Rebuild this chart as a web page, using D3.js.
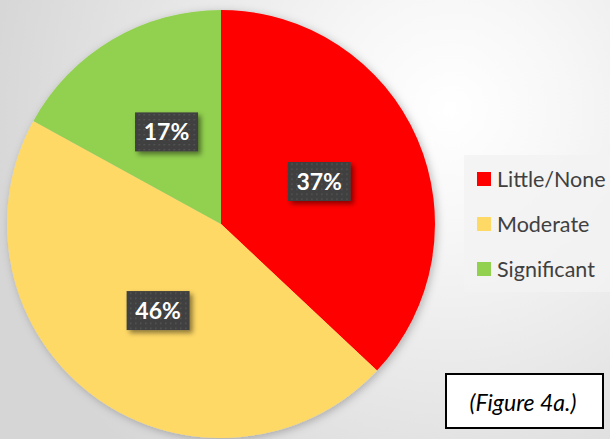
<!DOCTYPE html>
<html>
<head>
<meta charset="utf-8">
<script src="https://cdn.jsdelivr.net/npm/d3@7"></script>
<style>
  html, body { margin: 0; padding: 0; }
  body { width: 610px; height: 439px; overflow: hidden; }
</style>
</head>
<body>
<div id="chart"></div>
<script>
// data
const categories = ['Little/None', 'Moderate', 'Significant'];
const shares = [37, 46, 17];
const sliceColors = ['#ff0000', '#ffd966', '#92d050'];
const caption = '(Figure 4a.)';

const width = 610;
const height = 439;
const cx = 221;
const cy = 224;
const radius = 214;

const data = categories.map((c, i) => ({ name: c, value: shares[i] }));

const svg = d3.select('#chart')
  .append('svg')
    .attr('width', width)
    .attr('height', height);

const defs = svg.append('defs');

// background radial gradient, lightest toward upper right
const bg = defs.append('radialGradient')
  .attr('id', 'bgGrad')
  .attr('gradientUnits', 'userSpaceOnUse')
  .attr('cx', 450).attr('cy', 110).attr('r', 470);
bg.append('stop').attr('offset', '0%').attr('stop-color', '#ffffff');
bg.append('stop').attr('offset', '25%').attr('stop-color', '#f7f7f7');
bg.append('stop').attr('offset', '100%').attr('stop-color', '#d6d6d6');

// soft shadow for the pie and label boxes
const pieShadow = defs.append('filter')
  .attr('id', 'pieShadow')
  .attr('x', '-10%').attr('y', '-10%')
  .attr('width', '120%').attr('height', '120%');
pieShadow.append('feDropShadow')
  .attr('dx', 2).attr('dy', 2)
  .attr('stdDeviation', 4)
  .attr('flood-color', '#000')
  .attr('flood-opacity', 0.25);

const boxShadow = defs.append('filter')
  .attr('id', 'boxShadow')
  .attr('x', '-20%').attr('y', '-20%')
  .attr('width', '150%').attr('height', '160%');
boxShadow.append('feDropShadow')
  .attr('dx', 3).attr('dy', 3)
  .attr('stdDeviation', 2.5)
  .attr('flood-color', '#000')
  .attr('flood-opacity', 0.45);

// dotted fill for data label boxes
const dots = defs.append('pattern')
  .attr('id', 'dots')
  .attr('patternUnits', 'userSpaceOnUse')
  .attr('width', 5).attr('height', 5);
dots.append('rect')
  .attr('width', 5).attr('height', 5)
  .attr('fill', '#3f3f3f');
dots.append('rect')
  .attr('x', 2).attr('y', 2)
  .attr('width', 1.4).attr('height', 1.4)
  .attr('fill', '#5a5a5a');

svg.append('rect')
  .attr('width', width)
  .attr('height', height)
  .attr('fill', 'url(#bgGrad)');

//
// Pie
//

const pie = d3.pie()
  .sort(null)
  .value(d => d.value);

const arc = d3.arc()
  .innerRadius(0)
  .outerRadius(radius);

const color = d3.scaleOrdinal()
  .domain(categories)
  .range(sliceColors);

const arcs = pie(data);

const g = svg.append('g')
  .attr('transform', `translate(${cx}, ${cy})`);

g.append('g')
  .attr('filter', 'url(#pieShadow)')
  .selectAll('path')
  .data(arcs)
  .enter().append('path')
    .attr('d', arc)
    .attr('fill', d => color(d.data.name));

// data labels
const labelW = 63;
const labelH = 39;

const labels = g.selectAll('.label')
  .data(arcs)
  .enter().append('g')
    .attr('class', 'label')
    .attr('transform', d => {
      const [x, y] = arc.centroid(d);
      return `translate(${x}, ${y})`;
    });

labels.append('rect')
  .attr('x', -labelW / 2)
  .attr('y', -labelH / 2)
  .attr('width', labelW)
  .attr('height', labelH)
  .attr('fill', 'url(#dots)')
  .attr('filter', 'url(#boxShadow)');

labels.append('text')
  .attr('text-anchor', 'middle')
  .attr('dy', '0.36em')
  .style('font-family', 'Lato, "Open Sans", sans-serif')
  .style('font-size', '23px')
  .style('font-weight', 700)
  .style('fill', '#ffffff')
  .text(d => `${d.data.value}%`);

//
// Legend
//

const legend = svg.append('g')
  .attr('transform', `translate(${464}, ${155})`);

legend.append('rect')
  .attr('width', 150)
  .attr('height', 137)
  .attr('fill', '#f2f2f2')
  .attr('opacity', 0.8);

const rowH = 45;
const items = legend.selectAll('.item')
  .data(categories)
  .enter().append('g')
    .attr('class', 'item')
    .attr('transform', (d, i) => `translate(${13}, ${17 + i * rowH})`);

items.append('rect')
  .attr('width', 14)
  .attr('height', 14)
  .attr('fill', d => color(d));

items.append('text')
  .attr('x', 20)
  .attr('y', 7)
  .attr('dy', '0.35em')
  .style('font-family', 'Lato, "Open Sans", sans-serif')
  .style('font-size', '21.5px')
  .style('fill', '#404040')
  .text(d => d);

//
// Caption box
//

const cap = svg.append('g')
  .attr('transform', `translate(${446}, ${374})`);

cap.append('rect')
  .attr('width', 157)
  .attr('height', 54)
  .attr('fill', '#ffffff')
  .attr('stroke', '#000')
  .attr('stroke-width', 2);

cap.append('text')
  .attr('x', 77)
  .attr('y', 29)
  .attr('dy', '0.35em')
  .attr('text-anchor', 'middle')
  .style('font-family', 'Lato, "Open Sans", sans-serif')
  .style('font-size', '23px')
  .style('font-style', 'italic')
  .style('fill', '#000')
  .text(caption);
</script>
</body>
</html>
